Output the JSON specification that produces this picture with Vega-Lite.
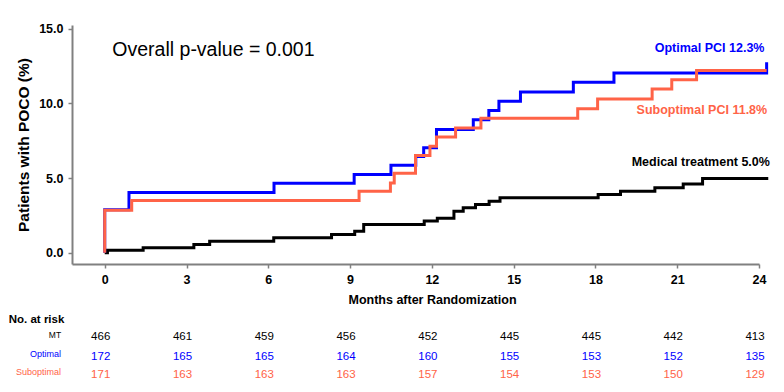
{
  "$schema": "https://vega.github.io/schema/vega-lite/v6.json",
  "width": 687,
  "height": 239,
  "autosize": {"type": "none"},
  "padding": {"left": 72, "top": 25, "right": 25, "bottom": 128},
  "background": "white",
  "config": {
    "view": {"stroke": null},
    "font": "Liberation Sans, Arial, sans-serif",
    "text": {"font": "Liberation Sans, Arial, sans-serif"}
  },
  "datasets": {
    "curves": [
      {"group": "MT", "month": 0, "pct": 0},
      {"group": "MT", "month": 0.1, "pct": 0.17},
      {"group": "MT", "month": 1.41, "pct": 0.33},
      {"group": "MT", "month": 3.27, "pct": 0.56},
      {"group": "MT", "month": 3.85, "pct": 0.78},
      {"group": "MT", "month": 6.2, "pct": 1.0},
      {"group": "MT", "month": 8.32, "pct": 1.22},
      {"group": "MT", "month": 9.17, "pct": 1.45},
      {"group": "MT", "month": 9.5, "pct": 1.9},
      {"group": "MT", "month": 11.72, "pct": 2.13},
      {"group": "MT", "month": 12.2, "pct": 2.32},
      {"group": "MT", "month": 12.81, "pct": 2.78},
      {"group": "MT", "month": 13.15, "pct": 3.01},
      {"group": "MT", "month": 13.6, "pct": 3.23},
      {"group": "MT", "month": 14.1, "pct": 3.45},
      {"group": "MT", "month": 14.5, "pct": 3.68},
      {"group": "MT", "month": 18.1, "pct": 3.9},
      {"group": "MT", "month": 18.92, "pct": 4.12},
      {"group": "MT", "month": 20.18, "pct": 4.35},
      {"group": "MT", "month": 21.22, "pct": 4.6},
      {"group": "MT", "month": 21.93, "pct": 4.97},
      {"group": "MT", "month": 24.34, "pct": 4.97},
      {"group": "Optimal", "month": 0, "pct": 0},
      {"group": "Optimal", "month": 0, "pct": 2.88},
      {"group": "Optimal", "month": 0.89, "pct": 4.03},
      {"group": "Optimal", "month": 6.21, "pct": 4.66},
      {"group": "Optimal", "month": 9.15, "pct": 5.24},
      {"group": "Optimal", "month": 10.5, "pct": 5.86},
      {"group": "Optimal", "month": 11.41, "pct": 6.44},
      {"group": "Optimal", "month": 11.7, "pct": 7.04},
      {"group": "Optimal", "month": 12.17, "pct": 8.25},
      {"group": "Optimal", "month": 13.52, "pct": 8.9},
      {"group": "Optimal", "month": 14.09, "pct": 9.52},
      {"group": "Optimal", "month": 14.46, "pct": 10.14},
      {"group": "Optimal", "month": 15.25, "pct": 10.77},
      {"group": "Optimal", "month": 17.19, "pct": 11.41},
      {"group": "Optimal", "month": 18.68, "pct": 12.04},
      {"group": "Optimal", "month": 24.28, "pct": 12.04},
      {"group": "Optimal", "month": 24.28, "pct": 12.75},
      {"group": "Suboptimal", "month": 0, "pct": 0},
      {"group": "Suboptimal", "month": 0, "pct": 2.85},
      {"group": "Suboptimal", "month": 0.99, "pct": 3.5},
      {"group": "Suboptimal", "month": 9.33, "pct": 4.12},
      {"group": "Suboptimal", "month": 10.48, "pct": 4.68},
      {"group": "Suboptimal", "month": 10.62, "pct": 5.33},
      {"group": "Suboptimal", "month": 11.4, "pct": 6.51},
      {"group": "Suboptimal", "month": 11.93, "pct": 7.13},
      {"group": "Suboptimal", "month": 12.17, "pct": 7.76},
      {"group": "Suboptimal", "month": 12.87, "pct": 8.36},
      {"group": "Suboptimal", "month": 13.8, "pct": 9.0},
      {"group": "Suboptimal", "month": 17.35, "pct": 9.65},
      {"group": "Suboptimal", "month": 18.08, "pct": 10.3},
      {"group": "Suboptimal", "month": 20.08, "pct": 10.97},
      {"group": "Suboptimal", "month": 20.8, "pct": 11.59},
      {"group": "Suboptimal", "month": 21.71, "pct": 12.21},
      {"group": "Suboptimal", "month": 24.28, "pct": 12.21}
    ],
    "risk": [
      {"group": "MT", "month": 0, "n": 466},
      {"group": "MT", "month": 3, "n": 461},
      {"group": "MT", "month": 6, "n": 459},
      {"group": "MT", "month": 9, "n": 456},
      {"group": "MT", "month": 12, "n": 452},
      {"group": "MT", "month": 15, "n": 445},
      {"group": "MT", "month": 18, "n": 445},
      {"group": "MT", "month": 21, "n": 442},
      {"group": "MT", "month": 24, "n": 413},
      {"group": "Optimal", "month": 0, "n": 172},
      {"group": "Optimal", "month": 3, "n": 165},
      {"group": "Optimal", "month": 6, "n": 165},
      {"group": "Optimal", "month": 9, "n": 164},
      {"group": "Optimal", "month": 12, "n": 160},
      {"group": "Optimal", "month": 15, "n": 155},
      {"group": "Optimal", "month": 18, "n": 153},
      {"group": "Optimal", "month": 21, "n": 152},
      {"group": "Optimal", "month": 24, "n": 135},
      {"group": "Suboptimal", "month": 0, "n": 171},
      {"group": "Suboptimal", "month": 3, "n": 163},
      {"group": "Suboptimal", "month": 6, "n": 163},
      {"group": "Suboptimal", "month": 9, "n": 163},
      {"group": "Suboptimal", "month": 12, "n": 157},
      {"group": "Suboptimal", "month": 15, "n": 154},
      {"group": "Suboptimal", "month": 18, "n": 153},
      {"group": "Suboptimal", "month": 21, "n": 150},
      {"group": "Suboptimal", "month": 24, "n": 129}
    ]
  },
  "layer": [
    {
      "data": {"name": "curves"},
      "mark": {"type": "line", "interpolate": "step-after", "strokeWidth": 3},
      "encoding": {
        "x": {
          "field": "month", "type": "quantitative",
          "scale": {"domain": [-1.2, 24], "nice": false, "zero": false},
          "axis": {
            "values": [0, 3, 6, 9, 12, 15, 18, 21, 24],
            "grid": false,
            "domainColor": "#808080", "domainWidth": 2,
            "tickColor": "#808080", "tickWidth": 1.5, "tickSize": 4,
            "labelFont": "Liberation Sans, Arial",
            "labelFontWeight": "bold", "labelFontSize": 12.5, "labelColor": "#000",
            "labelPadding": 5, "labelFlush": false, "labelOverlap": false,
            "title": "Months after Randomization",
            "titleFont": "Liberation Sans, Arial",
            "titleFontWeight": "bold", "titleFontSize": 12.5, "titleColor": "#000",
            "titleX": 360, "titlePadding": 8
          }
        },
        "y": {
          "field": "pct", "type": "quantitative",
          "scale": {"domain": [-0.75, 15.25], "nice": false, "zero": false},
          "axis": {
            "values": [0, 5, 10, 15],
            "format": ".1f",
            "grid": false,
            "domainColor": "#808080", "domainWidth": 2,
            "tickColor": "#808080", "tickWidth": 1.5, "tickSize": 4,
            "labelFont": "Liberation Sans, Arial",
            "labelFontWeight": "bold", "labelFontSize": 12.5, "labelColor": "#000",
            "labelPadding": 5, "labelFlush": false, "labelOverlap": false,
            "title": "Patients with POCO (%)",
            "titleFont": "Liberation Sans, Arial",
            "titleFontWeight": "bold", "titleFontSize": 15.5, "titleColor": "#000",
            "titlePadding": 7
          }
        },
        "color": {
          "field": "group", "type": "nominal",
          "scale": {"domain": ["MT", "Optimal", "Suboptimal"], "range": ["#000000", "#0000FF", "#FF6347"]},
          "legend": null
        },
        "order": {"field": "month"}
      }
    },
    {
      "data": {"values": [{"label": "Overall p-value = 0.001"}]},
      "mark": {"type": "text", "align": "left", "baseline": "middle", "fontSize": 19.5, "color": "#000"},
      "encoding": {"x": {"datum": 0.28}, "y": {"datum": 13.6}, "text": {"field": "label"}}
    },
    {
      "data": {"values": [{"label": "Optimal PCI 12.3%"}]},
      "mark": {"type": "text", "align": "right", "baseline": "middle", "fontSize": 12.5, "fontWeight": "bold", "color": "#0000FF"},
      "encoding": {"x": {"datum": 24.2}, "y": {"datum": 13.71}, "text": {"field": "label"}}
    },
    {
      "data": {"values": [{"label": "Suboptimal PCI 11.8%"}]},
      "mark": {"type": "text", "align": "right", "baseline": "middle", "fontSize": 12.5, "fontWeight": "bold", "color": "#FF6347"},
      "encoding": {"x": {"datum": 24.3}, "y": {"datum": 9.59}, "text": {"field": "label"}}
    },
    {
      "data": {"values": [{"label": "Medical treatment 5.0%"}]},
      "mark": {"type": "text", "align": "right", "baseline": "middle", "fontSize": 12.5, "fontWeight": "bold", "color": "#000"},
      "encoding": {"x": {"datum": 24.4}, "y": {"datum": 6.09}, "text": {"field": "label"}}
    },
    {
      "data": {"values": [{"label": "No. at risk"}]},
      "mark": {"type": "text", "align": "left", "baseline": "middle", "fontSize": 11.5, "fontWeight": "bold", "color": "#000"},
      "encoding": {"x": {"datum": -3.52}, "y": {"datum": -4.51}, "text": {"field": "label"}}
    },
    {
      "data": {"values": [{"label": "MT"}]},
      "mark": {"type": "text", "align": "right", "baseline": "middle", "fontSize": 8.5, "color": "#000"},
      "encoding": {"x": {"datum": -1.6}, "y": {"datum": -5.5}, "text": {"field": "label"}}
    },
    {
      "data": {"values": [{"label": "Optimal"}]},
      "mark": {"type": "text", "align": "right", "baseline": "middle", "fontSize": 9, "color": "#0000FF"},
      "encoding": {"x": {"datum": -1.6}, "y": {"datum": -6.8}, "text": {"field": "label"}}
    },
    {
      "data": {"values": [{"label": "Suboptimal"}]},
      "mark": {"type": "text", "align": "right", "baseline": "middle", "fontSize": 9, "color": "#FF6347"},
      "encoding": {"x": {"datum": -1.6}, "y": {"datum": -7.96}, "text": {"field": "label"}}
    },
    {
      "data": {"name": "risk"},
      "transform": [{"filter": "datum.group === 'MT'"}],
      "mark": {"type": "text", "align": "center", "baseline": "middle", "fontSize": 11.5, "dx": -4, "color": "#000"},
      "encoding": {"x": {"field": "month", "type": "quantitative"}, "y": {"datum": -5.65}, "text": {"field": "n"}}
    },
    {
      "data": {"name": "risk"},
      "transform": [{"filter": "datum.group === 'Optimal'"}],
      "mark": {"type": "text", "align": "center", "baseline": "middle", "fontSize": 11.5, "dx": -4, "color": "#0000FF"},
      "encoding": {"x": {"field": "month", "type": "quantitative"}, "y": {"datum": -6.96}, "text": {"field": "n"}}
    },
    {
      "data": {"name": "risk"},
      "transform": [{"filter": "datum.group === 'Suboptimal'"}],
      "mark": {"type": "text", "align": "center", "baseline": "middle", "fontSize": 11.5, "dx": -4, "color": "#FF6347"},
      "encoding": {"x": {"field": "month", "type": "quantitative"}, "y": {"datum": -8.16}, "text": {"field": "n"}}
    }
  ]
}
